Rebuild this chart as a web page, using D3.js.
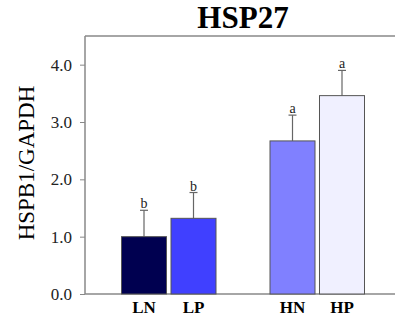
<!DOCTYPE html>
<html>
<head>
<meta charset="utf-8">
<script src="https://cdn.jsdelivr.net/npm/d3@7"></script>
<style>
  body { margin: 0; background: #fff; }
  svg text { font-family: "Liberation Serif", "Times New Roman", serif; }
</style>
</head>
<body>
<div id="chart"></div>
<script>
// data
var categories = ["LN", "LP", "HN", "HP"];
var means = [1.0, 1.32, 2.67, 3.46];
var errors = [0.46, 0.45, 0.45, 0.44];
var letters = ["b", "b", "a", "a"];
var colors = ["#000050", "#4040ff", "#8080ff", "#f0f0ff"];
var yTicks = [0, 1, 2, 3, 4];

var width = 395, height = 320;
var margin = {top: 36, right: 0, bottom: 26, left: 85};

var svg = d3.select("#chart").append("svg")
    .attr("width", width)
    .attr("height", height);

// spacer slot between the L and H pairs
var slots = ["LN", "LP", "_gap", "HN", "HP"];
var x = d3.scaleBand()
    .domain(slots)
    .range([121.5, 364.5])
    .paddingInner(0.0909)
    .paddingOuter(0);

var y = d3.scaleLinear()
    .domain([0, 4.5])
    .range([height - margin.bottom, margin.top]);

// title
svg.append("text")
    .attr("x", 243)
    .attr("y", 28)
    .attr("text-anchor", "middle")
    .style("font-size", "31px")
    .style("font-weight", "bold")
    .text("HSP27");

// top frame line
svg.append("line")
    .attr("x1", margin.left).attr("x2", width)
    .attr("y1", y(4.5)).attr("y2", y(4.5))
    .attr("stroke", "#888").attr("stroke-width", 1.5);

// y axis
var yAxis = svg.append("g")
    .attr("transform", "translate(" + margin.left + ",0)")
    .call(d3.axisLeft(y).tickValues(yTicks).tickFormat(d3.format(".1f")).tickSize(5).tickPadding(8));
yAxis.attr("font-family", null).attr("font-size", null);
yAxis.select(".domain").attr("stroke", "#888").attr("stroke-width", 1.5)
    .attr("d", "M0," + y(4.5) + "V" + y(0));
yAxis.selectAll(".tick line").attr("stroke", "#888");
yAxis.selectAll(".tick text")
    .style("font-family", "'Liberation Serif', serif")
    .style("font-size", "17px")
    .attr("fill", "#222");

// x axis line
svg.append("line")
    .attr("x1", margin.left).attr("x2", width)
    .attr("y1", y(0)).attr("y2", y(0))
    .attr("stroke", "#888").attr("stroke-width", 1.5);

// y label
svg.append("text")
    .attr("transform", "translate(34," + 163 + ") rotate(-90)")
    .attr("text-anchor", "middle")
    .style("font-size", "23px")
    .text("HSPB1/GAPDH");

// error bars (drawn below bars)
var eb = svg.selectAll(".err")
    .data(categories)
    .enter().append("g")
    .attr("class", "err");
eb.append("line")
    .attr("x1", function(d) { return x(d) + x.bandwidth() / 2; })
    .attr("x2", function(d) { return x(d) + x.bandwidth() / 2; })
    .attr("y1", function(d, i) { return y(means[i]); })
    .attr("y2", function(d, i) { return y(means[i] + errors[i]); })
    .attr("stroke", "#666").attr("stroke-width", 1.2);
eb.append("line")
    .attr("x1", function(d) { return x(d) + x.bandwidth() / 2 - 4; })
    .attr("x2", function(d) { return x(d) + x.bandwidth() / 2 + 4; })
    .attr("y1", function(d, i) { return y(means[i] + errors[i]); })
    .attr("y2", function(d, i) { return y(means[i] + errors[i]); })
    .attr("stroke", "#666").attr("stroke-width", 1.2);

// bars
svg.selectAll(".bar")
    .data(categories)
    .enter().append("rect")
    .attr("class", "bar")
    .attr("x", function(d) { return x(d); })
    .attr("width", x.bandwidth())
    .attr("y", function(d, i) { return y(means[i]); })
    .attr("height", function(d, i) { return y(0) - y(means[i]); })
    .attr("fill", function(d, i) { return colors[i]; })
    .attr("stroke", "#555")
    .attr("stroke-width", 1);

// significance letters
svg.selectAll(".letter")
    .data(categories)
    .enter().append("text")
    .attr("class", "letter")
    .attr("x", function(d) { return x(d) + x.bandwidth() / 2; })
    .attr("y", function(d, i) { return y(means[i] + errors[i]) - 2; })
    .attr("text-anchor", "middle")
    .style("font-size", "14px")
    .attr("fill", "#222")
    .text(function(d, i) { return letters[i]; });

// category labels
svg.selectAll(".cat")
    .data(categories)
    .enter().append("text")
    .attr("class", "cat")
    .attr("x", function(d) { return x(d) + x.bandwidth() / 2; })
    .attr("y", 313)
    .attr("text-anchor", "middle")
    .style("font-size", "17px")
    .style("font-weight", "bold")
    .text(function(d) { return d; });
</script>
</body>
</html>
